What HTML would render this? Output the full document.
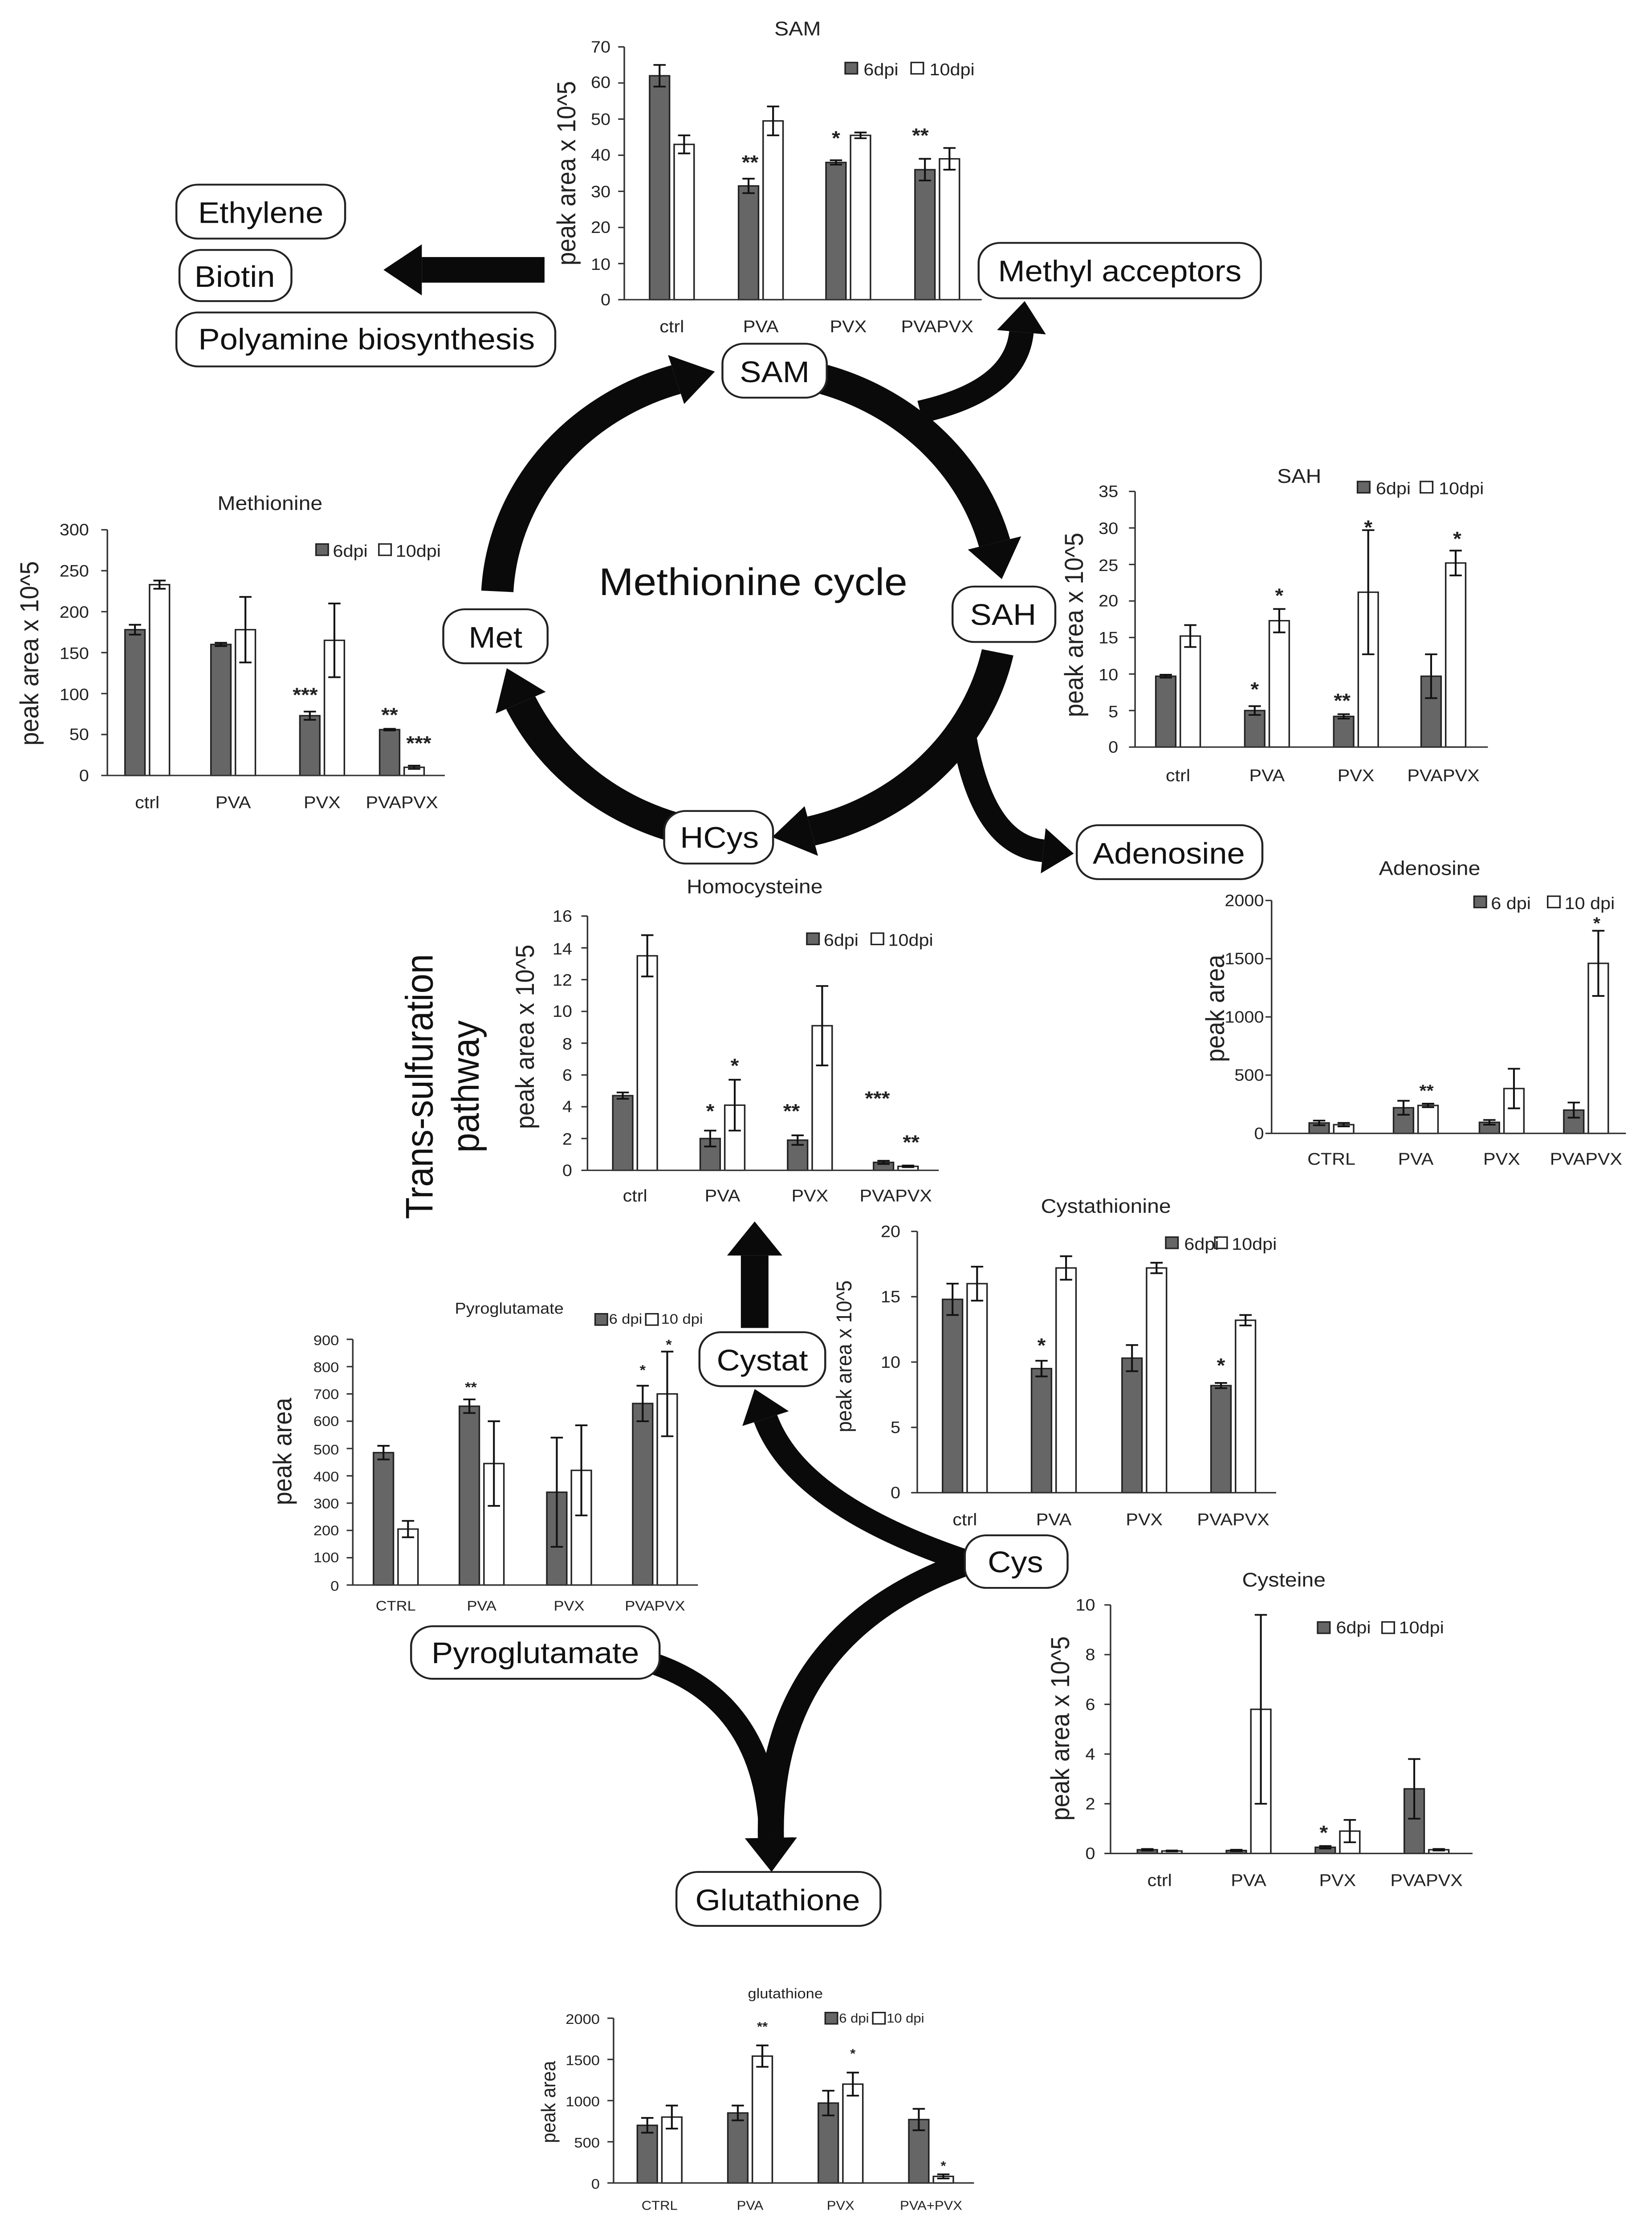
<!DOCTYPE html>
<html><head><meta charset="utf-8"><style>
html,body{margin:0;padding:0;background:#fff;width:100%;height:100%;overflow:hidden}
svg{display:block;position:absolute;left:0;top:0;width:100vw;height:100vh}
text{font-family:"Liberation Sans",sans-serif;fill:#222}
.t{font-size:11.5px}
.c{font-size:12px;text-anchor:middle}
.ti{font-size:14px;text-anchor:middle}
.yl{font-size:17px;text-anchor:middle}
.lg{font-size:12px}
.n{font-size:21px;text-anchor:middle;fill:#111}
.s{font-size:14px;text-anchor:middle;font-weight:bold}
</style></head><body>
<svg id="S" viewBox="0 0 1077 1568" preserveAspectRatio="none" xmlns="http://www.w3.org/2000/svg">
<rect width="1077" height="1568" fill="#fff"/>
<g id="G"></g>

<g fill="#fff" stroke="#222" stroke-width="1.3">
<rect x="115" y="130" width="110" height="38" rx="14"/>
<rect x="117" y="176" width="73" height="36" rx="14"/>
<rect x="115" y="220" width="247" height="38" rx="14"/>
<rect x="638" y="171" width="184" height="39" rx="14"/>
<rect x="471" y="242" width="68" height="38" rx="14"/>
<rect x="621" y="413" width="67" height="39" rx="14"/>
<rect x="289" y="429" width="68" height="38" rx="14"/>
<rect x="433" y="571" width="71" height="37" rx="14"/>
<rect x="702" y="581" width="121" height="38" rx="14"/>
<rect x="456" y="938" width="82" height="38" rx="14"/>
<rect x="629" y="1081" width="67" height="37" rx="14"/>
<rect x="268" y="1145" width="162" height="37" rx="14"/>
<rect x="441" y="1318" width="133" height="38" rx="14"/>
</g>
<text class="n" x="170" y="157">Ethylene</text>
<text class="n" x="153" y="202">Biotin</text>
<text class="n" x="239" y="246">Polyamine biosynthesis</text>
<text class="n" x="730" y="198">Methyl acceptors</text>
<text class="n" x="505" y="269">SAM</text>
<text class="n" x="654" y="440">SAH</text>
<text class="n" x="323" y="456">Met</text>
<text class="n" x="469" y="597">HCys</text>
<text class="n" x="762" y="608">Adenosine</text>
<text class="n" x="497" y="965">Cystat</text>
<text class="n" x="662" y="1107">Cys</text>
<text class="n" x="349" y="1171">Pyroglutamate</text>
<text class="n" x="507" y="1345">Glutathione</text>
<text x="491" y="419" style="font-size:27px;text-anchor:middle;fill:#111">Methionine cycle</text>
<g transform="translate(290,765) rotate(-90)"><text x="0" y="-8" style="font-size:25px;text-anchor:middle;fill:#111">Trans-sulfuration</text><text x="0" y="22" style="font-size:25px;text-anchor:middle;fill:#111">pathway</text></g>

<text class="ti" x="520" y="25">SAM</text>
<g class="t" text-anchor="end"><text x="398" y="37">70</text><text x="398" y="62">60</text><text x="398" y="88">50</text><text x="398" y="113">40</text><text x="398" y="139">30</text><text x="398" y="164">20</text><text x="398" y="190">10</text><text x="398" y="215">0</text></g>
<text class="c" x="438" y="234">ctrl</text><text class="c" x="496" y="234">PVA</text><text class="c" x="553" y="234">PVX</text><text class="c" x="611" y="234">PVAPVX</text>
<text class="yl" transform="translate(375,122) rotate(-90)">peak area x 10^5</text>
<text class="lg" x="563" y="53">6dpi</text><text class="lg" x="606" y="53">10dpi</text>
<text class="s" x="489" y="119">**</text><text class="s" x="545" y="102">*</text><text class="s" x="600" y="100">**</text>

<text class="ti" x="176" y="359">Methionine</text>
<g class="t" text-anchor="end"><text x="58" y="377">300</text><text x="58" y="406">250</text><text x="58" y="435">200</text><text x="58" y="464">150</text><text x="58" y="493">100</text><text x="58" y="521">50</text><text x="58" y="550">0</text></g>
<text class="c" x="96" y="569">ctrl</text><text class="c" x="152" y="569">PVA</text><text class="c" x="210" y="569">PVX</text><text class="c" x="262" y="569">PVAPVX</text>
<text class="yl" transform="translate(25,460) rotate(-90)">peak area x 10^5</text>
<text class="lg" x="217" y="392">6dpi</text><text class="lg" x="258" y="392">10dpi</text>
<text class="s" x="199" y="494">***</text><text class="s" x="254" y="508">**</text><text class="s" x="273" y="528">***</text>

<text class="ti" x="847" y="340">SAH</text>
<g class="t" text-anchor="end"><text x="729" y="350">35</text><text x="729" y="376">30</text><text x="729" y="402">25</text><text x="729" y="427">20</text><text x="729" y="453">15</text><text x="729" y="479">10</text><text x="729" y="505">5</text><text x="729" y="530">0</text></g>
<text class="c" x="768" y="550">ctrl</text><text class="c" x="826" y="550">PVA</text><text class="c" x="884" y="550">PVX</text><text class="c" x="941" y="550">PVAPVX</text>
<text class="yl" transform="translate(706,440) rotate(-90)">peak area x 10^5</text>
<text class="lg" x="897" y="348">6dpi</text><text class="lg" x="938" y="348">10dpi</text>
<text class="s" x="818" y="490">*</text><text class="s" x="834" y="424">*</text><text class="s" x="875" y="498">**</text><text class="s" x="892" y="376">*</text><text class="s" x="950" y="384">*</text>

<text class="ti" x="932" y="616">Adenosine</text>
<g class="t" text-anchor="end"><text x="824" y="638">2000</text><text x="824" y="679">1500</text><text x="824" y="720">1000</text><text x="824" y="761">500</text><text x="824" y="802">0</text></g>
<text class="c" x="868" y="820">CTRL</text><text class="c" x="923" y="820">PVA</text><text class="c" x="979" y="820">PVX</text><text class="c" x="1034" y="820">PVAPVX</text>
<text class="yl" transform="translate(798,710) rotate(-90)">peak area</text>
<text class="lg" x="972" y="640">6 dpi</text><text class="lg" x="1020" y="640">10 dpi</text>
<text class="s" x="930" y="772" style="font-size:12px">**</text><text class="s" x="1041" y="654" style="font-size:12px">*</text>

<text class="ti" x="492" y="629">Homocysteine</text>
<g class="t" text-anchor="end"><text x="373" y="649">16</text><text x="373" y="672">14</text><text x="373" y="694">12</text><text x="373" y="716">10</text><text x="373" y="739">8</text><text x="373" y="761">6</text><text x="373" y="783">4</text><text x="373" y="806">2</text><text x="373" y="828">0</text></g>
<text class="c" x="414" y="846">ctrl</text><text class="c" x="471" y="846">PVA</text><text class="c" x="528" y="846">PVX</text><text class="c" x="584" y="846">PVAPVX</text>
<text class="yl" transform="translate(348,730) rotate(-90)">peak area x 10^5</text>
<text class="lg" x="537" y="666">6dpi</text><text class="lg" x="579" y="666">10dpi</text>
<text class="s" x="463" y="787">*</text><text class="s" x="479" y="755">*</text><text class="s" x="516" y="787">**</text><text class="s" x="572" y="778">***</text><text class="s" x="594" y="809">**</text>

<text class="ti" x="721" y="854">Cystathionine</text>
<g class="t" text-anchor="end"><text x="587" y="871">20</text><text x="587" y="917">15</text><text x="587" y="963">10</text><text x="587" y="1009">5</text><text x="587" y="1055">0</text></g>
<text class="c" x="629" y="1074">ctrl</text><text class="c" x="687" y="1074">PVA</text><text class="c" x="746" y="1074">PVX</text><text class="c" x="804" y="1074">PVAPVX</text>
<text class="yl" style="font-size:14px" transform="translate(555,955) rotate(-90)">peak area x 10^5</text>
<text class="lg" x="772" y="880">6dpi</text><text class="lg" x="803" y="880">10dpi</text>
<text class="s" x="679" y="952">*</text><text class="s" x="796" y="966">*</text>

<text class="ti" x="332" y="925" style="font-size:11px">Pyroglutamate</text>
<g class="t" text-anchor="end" style="font-size:10px"><text x="221" y="947">900</text><text x="221" y="966">800</text><text x="221" y="985">700</text><text x="221" y="1004">600</text><text x="221" y="1024">500</text><text x="221" y="1043">400</text><text x="221" y="1062">300</text><text x="221" y="1081">200</text><text x="221" y="1100">100</text><text x="221" y="1120">0</text></g>
<g style="font-size:10px;text-anchor:middle"><text x="258" y="1134">CTRL</text><text x="314" y="1134">PVA</text><text x="371" y="1134">PVX</text><text x="427" y="1134">PVAPVX</text></g>
<text class="yl" transform="translate(190,1022) rotate(-90)">peak area</text>
<text style="font-size:10px" x="397" y="932">6 dpi</text><text style="font-size:10px" x="431" y="932">10 dpi</text>
<text class="s" x="307" y="980" style="font-size:10px">**</text><text class="s" x="419" y="968" style="font-size:10px">*</text><text class="s" x="436" y="950" style="font-size:10px">*</text>

<text class="ti" x="837" y="1117">Cysteine</text>
<g class="t" text-anchor="end"><text x="714" y="1134">10</text><text x="714" y="1169">8</text><text x="714" y="1204">6</text><text x="714" y="1239">4</text><text x="714" y="1274">2</text><text x="714" y="1309">0</text></g>
<text class="c" x="756" y="1328">ctrl</text><text class="c" x="814" y="1328">PVA</text><text class="c" x="872" y="1328">PVX</text><text class="c" x="930" y="1328">PVAPVX</text>
<text class="yl" transform="translate(697,1217) rotate(-90)">peak area x 10^5</text>
<text class="lg" x="871" y="1150">6dpi</text><text class="lg" x="912" y="1150">10dpi</text>
<text class="s" x="863" y="1295">*</text>

<text class="ti" x="512" y="1407" style="font-size:10px">glutathione</text>
<g text-anchor="end" style="font-size:10px"><text x="391" y="1425">2000</text><text x="391" y="1454">1500</text><text x="391" y="1483">1000</text><text x="391" y="1512">500</text><text x="391" y="1541">0</text></g>
<g style="font-size:9px;text-anchor:middle"><text x="430" y="1556">CTRL</text><text x="489" y="1556">PVA</text><text x="548" y="1556">PVX</text><text x="607" y="1556">PVA+PVX</text></g>
<text class="yl" style="font-size:13px" transform="translate(362,1480) rotate(-90)">peak area</text>
<text style="font-size:9px" x="547" y="1424">6 dpi</text><text style="font-size:9px" x="578" y="1424">10 dpi</text>
<text class="s" x="497" y="1430" style="font-size:9px">**</text><text class="s" x="556" y="1449" style="font-size:9px">*</text><text class="s" x="615" y="1528" style="font-size:9px">*</text>
</svg>
<script>
var G=document.getElementById('G'),NS='http://www.w3.org/2000/svg';
function el(t,a){var e=document.createElementNS(NS,t);for(var k in a)e.setAttribute(k,a[k]);G.appendChild(e);return e;}
function chart(o){
 var u=(o.bot-o.top)/o.max,bw=o.bw||13;
 o.data.forEach(function(d,i){var cx=o.cats[i];
  [[cx-bw-1.5,d[0],d[1],'#666'],[cx+1.5,d[2],d[3],'#fff']].forEach(function(b){
   var y=o.bot-b[1]*u;el('rect',{x:b[0],y:y,width:bw,height:b[1]*u,fill:b[3],stroke:'#222','stroke-width':1});
   var m=b[0]+bw/2,y1=o.bot-(b[1]+b[2])*u,y2=o.bot-Math.max(0,b[1]-b[2])*u;
   el('path',{d:'M'+m+' '+y1+'V'+y2+'M'+(m-4)+' '+y1+'h8M'+(m-4)+' '+y2+'h8',stroke:'#111','stroke-width':1.2,fill:'none'});
  });});
 var p='M'+o.x0+' '+o.top+'V'+o.bot+'H'+o.xend;
 for(var v=0;v<=o.max+1e-9;v+=o.step){p+='M'+(o.x0-4)+' '+(o.bot-v*u)+'h4';}
 el('path',{d:p,stroke:'#333','stroke-width':1,fill:'none'});
 el('rect',{x:o.lg[0],y:o.lg[1],width:8,height:8,fill:'#666',stroke:'#222'});
 el('rect',{x:o.lg[2],y:o.lg[1],width:8,height:8,fill:'#fff',stroke:'#222'});
}
chart({x0:407,top:33,bot:211,max:70,step:10,xend:640,cats:[438,496,553,611],data:[[62,3,43,2.5],[31.5,2,49.5,4],[38,0.6,45.5,0.8],[36,3,39,3]],lg:[551,44,594]});
chart({x0:70,top:373,bot:546,max:300,step:50,xend:290,cats:[96,152,210,262],data:[[178,6,233,5],[160,2,178,40],[73,5,165,45],[56,1,10,2]],lg:[206,383,247]});
chart({x0:740,top:346,bot:526,max:35,step:5,xend:970,cats:[768,826,884,941],data:[[9.7,0.2,15.2,1.5],[5,0.6,17.3,1.6],[4.2,0.3,21.2,8.5],[9.7,3,25.2,1.7]],lg:[885,339,926]});
chart({x0:829,top:634,bot:798,max:2000,step:500,xend:1060,cats:[868,923,979,1034],data:[[90,20,75,15],[220,60,240,15],[95,20,385,170],[200,65,1460,280]],lg:[961,631,1009]});
chart({x0:383,top:645,bot:824,max:16,step:2,xend:612,cats:[414,471,528,584],data:[[4.7,0.2,13.5,1.3],[2,0.5,4.1,1.6],[1.9,0.3,9.1,2.5],[0.5,0.1,0.25,0.05]],lg:[526,657,568]});
chart({x0:598,top:867,bot:1051,max:20,step:5,xend:832,cats:[629,687,746,804],data:[[14.8,1.2,16,1.3],[9.5,0.6,17.2,0.9],[10.3,1,17.2,0.4],[8.2,0.2,13.2,0.4]],lg:[760,871,792]});
chart({x0:230,top:943,bot:1116,max:900,step:100,xend:455,cats:[258,314,371,427],data:[[485,25,205,30],[655,25,445,155],[340,200,420,165],[665,65,700,155]],lg:[388,925,421]});
chart({x0:724,top:1130,bot:1305,max:10,step:2,xend:960,cats:[756,814,872,930],data:[[0.15,0.03,0.1,0.02],[0.12,0.03,5.8,3.8],[0.25,0.05,0.9,0.45],[2.6,1.2,0.15,0.03]],lg:[859,1142,901]});
chart({x0:400,top:1421,bot:1537,max:2000,step:500,xend:635,cats:[430,489,548,607],data:[[700,90,800,140],[850,90,1540,130],[970,150,1200,140],[770,130,80,25]],lg:[538,1417,569],bw:13});
var C=[489,425],R=165;
function pt(a,r){a=a*Math.PI/180;return [C[0]+(r||R)*Math.cos(a),C[1]+(r||R)*Math.sin(a)];}
function arc(a1,a2){var L=9,b=a2-L,s=pt(a1),e=pt(b);
 el('path',{d:'M'+s+' A'+R+' '+R+' 0 0 1 '+e,stroke:'#0a0a0a','stroke-width':21,fill:'none'});
 var t=pt(a2),p1=pt(b,R+18),p2=pt(b,R-18);el('polygon',{points:t+' '+p1+' '+p2,fill:'#0a0a0a'});}
arc(183,262);arc(-74,-6);arc(12,85);arc(103,164);
function curve(x0,y0,cx,cy,x1,y1,w,h){var dx=x1-cx,dy=y1-cy,l=Math.hypot(dx,dy);dx/=l;dy/=l;
 var bx=x1-dx*h,by=y1-dy*h;
 el('path',{d:'M'+x0+' '+y0+'Q'+cx+' '+cy+' '+bx+' '+by,stroke:'#0a0a0a','stroke-width':w,fill:'none'});
 el('polygon',{points:x1+','+y1+' '+(bx-dy*w)+','+(by+dx*w)+' '+(bx+dy*w)+','+(by-dx*w),fill:'#0a0a0a'});}
curve(600,290,662,275,668,212,16,22);
curve(628,515,640,595,700,601,16,20);
curve(355,190,300,190,250,190,18,25);
curve(492,935,492,900,492,860,18,24);
curve(632,1100,520,1060,492,978,16,22);
curve(632,1100,500,1150,503,1318,17,24);
curve(428,1172,500,1200,503,1318,15,24);
</script>
</body></html>
